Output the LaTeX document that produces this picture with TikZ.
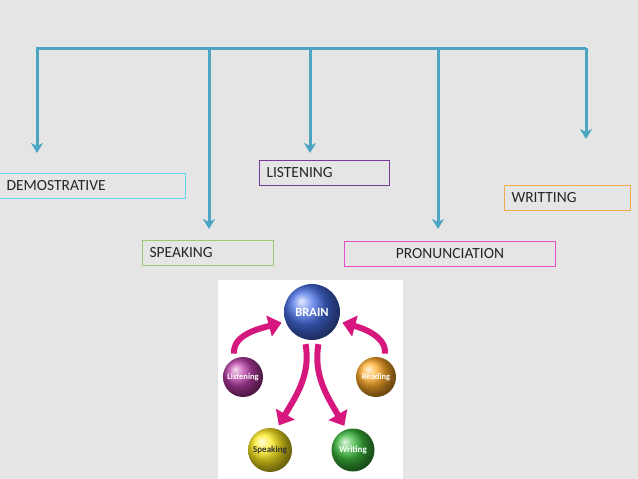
\documentclass[tikz,border=0pt]{standalone}
\usepackage{fontspec}
\setmainfont{Carlito}
\usepackage{tikz}
\usetikzlibrary{arrows.meta,shadings}

\definecolor{bgc}{RGB}{229,229,229}
\definecolor{busc}{RGB}{75,165,195}
\definecolor{cyanb}{RGB}{100,215,230}
\definecolor{greenb}{RGB}{150,205,110}
\definecolor{purpb}{RGB}{120,60,150}
\definecolor{pinkb}{RGB}{230,80,200}
\definecolor{orangeb}{RGB}{240,170,80}
\definecolor{magarr}{RGB}{214,24,126}
\definecolor{brainc}{RGB}{70,110,230}
\definecolor{lisc}{RGB}{185,60,165}
\definecolor{readc}{RGB}{255,170,40}
\definecolor{spkc}{RGB}{255,235,30}
\definecolor{wrtc}{RGB}{60,185,60}

\tikzset{
  bus/.style={draw=busc, line width=3pt, line join=miter, arrows={-Stealth[length=10pt,width=12pt,inset=3pt]}},
  skillbox/.style={draw, rectangle, line width=1pt, minimum height=25pt, inner xsep=7pt, inner ysep=0pt,
    anchor=north west, align=left, text=black!85, font=\fontsize{15.5}{18}\selectfont},
  ball/.style={circle, shading=ball, text=white, inner sep=0pt, font=\bfseries},
  curlarrow/.style={draw=magarr, line width=6pt, -{Triangle[length=13pt,width=21pt]}, shorten <=5pt, shorten >=4pt}
}

\begin{document}
\begin{tikzpicture}[x=1pt, y=-1pt]
\useasboundingbox (0,0) rectangle (638,479);
\fill[bgc] (0,0) rectangle (638,479);

\node[skillbox, draw=cyanb, text width=172pt] (dem) at (-1,173) {DEMOSTRATIVE};
\node[skillbox, draw=greenb, text width=117pt] (spk) at (142,240) {SPEAKING};
\node[skillbox, draw=purpb, text width=116pt] (lis) at (259,160) {LISTENING};
\node[skillbox, draw=pinkb, text width=197pt, align=center] (pro) at (344,241) {PRONUNCIATION};
\node[skillbox, draw=orangeb, text width=112pt] (wri) at (504,185) {WRITTING};

\coordinate (bL) at (37,48);
\coordinate (bR) at (586,48);
\coordinate (tDem) at (37,153);
\coordinate (tSpk) at (209,229);
\coordinate (tLis) at (310,153);
\coordinate (tPro) at (438,229);
\coordinate (tWri) at (586,139);

\draw[bus] (bR) -- (bL) -- (tDem);
\draw[bus] (bR) -- (tWri);
\draw[bus] (bL -| tSpk) -- (tSpk);
\draw[bus] (bL -| tLis) -- (tLis);
\draw[bus] (bL -| tPro) -- (tPro);

\fill[white] (218,280) rectangle (403,479);

\node[ball, ball color=brainc, minimum size=56pt, font=\bfseries\fontsize{12.5}{13}\selectfont] (brain) at (312,312) {BRAIN};
\node[ball, ball color=lisc, minimum size=40pt, font=\bfseries\fontsize{8.5}{9}\selectfont] (listening) at (243,377) {Listening};
\node[ball, ball color=readc, minimum size=40pt, font=\bfseries\fontsize{8.5}{9}\selectfont] (reading) at (376,377) {Reading};
\node[ball, ball color=spkc, text=black!80, minimum size=44pt, font=\bfseries\fontsize{9}{10}\selectfont] (speaking) at (270,450) {Speaking};
\node[ball, ball color=wrtc, minimum size=43pt, font=\bfseries\fontsize{9}{10}\selectfont] (writing) at (353,450) {Writing};

\draw[curlarrow] (listening.115) to[out=95, in=195] (brain.200);
\draw[curlarrow] (reading.65) to[out=85, in=-15] (brain.-20);
\draw[curlarrow] (brain.255) to[out=-80, in=60] (speaking.72);
\draw[curlarrow] (brain.285) to[out=-100, in=120] (writing.108);
\end{tikzpicture}
\end{document}
